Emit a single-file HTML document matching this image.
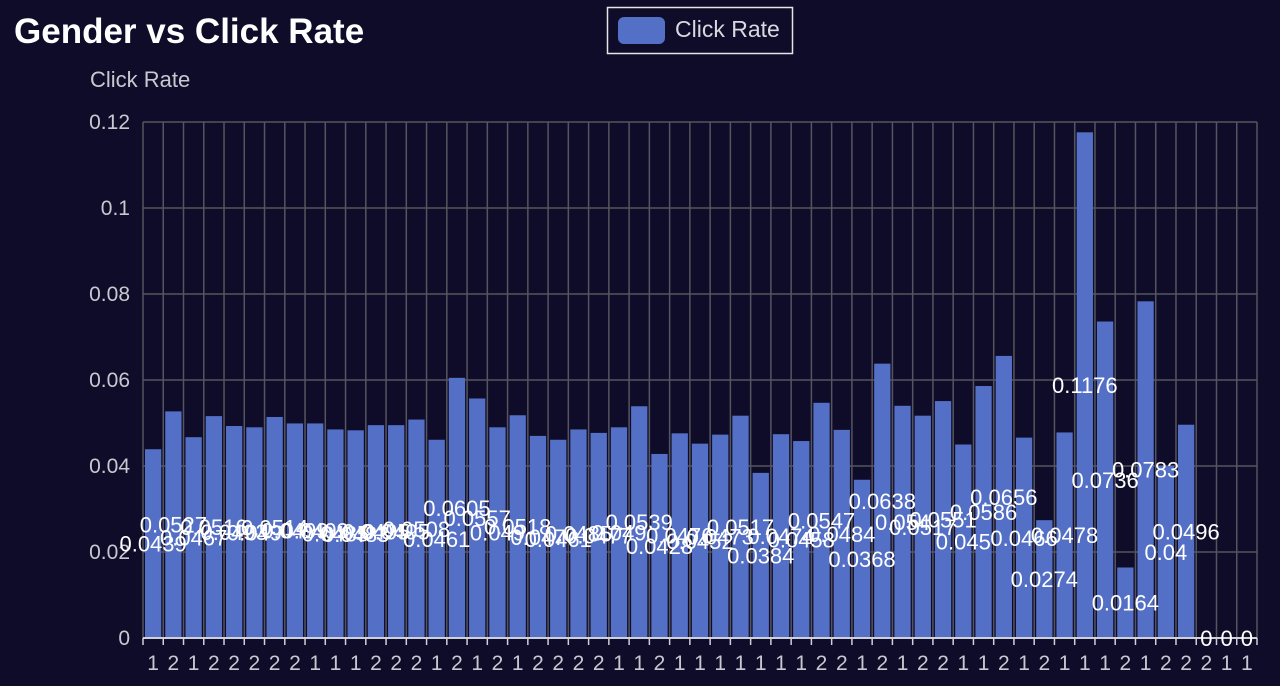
<!DOCTYPE html>
<html><head><meta charset="utf-8"><style>
body{margin:0;background:#0f0c29;width:1280px;height:681px;overflow:hidden;font-family:"Liberation Sans","Noto Sans CJK SC",sans-serif}
</style></head><body>
<svg id="chart" width="1280" height="681" xmlns="http://www.w3.org/2000/svg">
<rect width="1280" height="681" fill="#0f0c29"/>
<text x="14" y="43" fill="#ffffff" font-size="35" font-weight="bold">Gender vs Click Rate</text>
<g>
<rect x="607.5" y="7.5" width="185" height="46" fill="none" stroke="#e6e6e6" stroke-width="1.5"/>
<rect x="618" y="17" width="47" height="27" rx="6" fill="#5470c6"/>
<text x="675" y="37" fill="#d8d8e0" font-size="23">Click Rate</text>
</g>
<text x="90" y="87" fill="#c8c8d0" font-size="22">Click Rate</text>
<g id="grid"></g><g id="bars"></g><g id="axes"></g><g id="labels"></g>
</svg>
<script>
const categories=["1","2","1","2","2","2","2","2","1","1","1","2","2","2","1","2","1","2","1","2","2","2","2","1","1","2","1","1","1","1","1","1","1","2","2","1","2","1","2","2","1","1","2","1","2","1","1","1","2","1","2","2","2","1","1"];
const values=[0.0439,0.0527,0.0467,0.0516,0.0493,0.049,0.0514,0.0499,0.0499,0.0485,0.0483,0.0495,0.0495,0.0508,0.0461,0.0605,0.0557,0.049,0.0518,0.047,0.0461,0.0485,0.0477,0.049,0.0539,0.0428,0.0476,0.0452,0.0473,0.0517,0.0384,0.0474,0.0458,0.0547,0.0484,0.0368,0.0638,0.054,0.0517,0.0551,0.045,0.0586,0.0656,0.0466,0.0274,0.0478,0.1176,0.0736,0.0164,0.0783,0.04,0.0496,0,0,0];
const yTicks=[0,0.02,0.04,0.06,0.08,0.1,0.12];
const yTickLabels=["0","0.02","0.04","0.06","0.08","0.1","0.12"];
const X0=143,X1=1257,Y0=638,Y1=122,YMAX=0.12;
const bw=(X1-X0)/categories.length;
const y=v=>Y0-(v/YMAX)*(Y0-Y1);
const x=i=>X0+i*bw;
const NS="http://www.w3.org/2000/svg";
function mk(tag,attrs,parent){const e=document.createElementNS(NS,tag);for(const k in attrs)e.setAttribute(k,attrs[k]);document.getElementById(parent).appendChild(e);return e;}
yTicks.forEach((t,i)=>{
 if(t>0){const l=mk('line',{x1:X0,x2:X1,y1:y(t),y2:y(t),stroke:'#55555f','stroke-width':1.5},'grid');
 
 }
 const tx=mk('text',{x:130,y:y(t)+7,fill:'#c8c8d0','font-size':21,'text-anchor':'end'},'axes');
 tx.textContent=yTickLabels[i];
 
 
});
for(let i=0;i<=categories.length;i++){
 const l=mk('line',{x1:x(i),x2:x(i),y1:Y1,y2:Y0,stroke:'#55555f','stroke-width':1.5},'grid');
 
 
 const tk=mk('line',{x1:x(i),x2:x(i),y1:Y0,y2:Y0+7,stroke:'#d0d0d8','stroke-width':1.5},'axes');
 
 
}
const ax=mk('line',{x1:X0,x2:X1,y1:Y0,y2:Y0,stroke:'#d0d0d8','stroke-width':2},'axes');


categories.forEach((c,i)=>{
 const cx=x(i)+bw/2;
 const v=values[i];
 const b=mk('rect',{x:x(i)+2,y:y(v),width:bw-4,height:Y0-y(v),fill:'#5470c6'},'bars');
 
 
 const xl=mk('text',{x:cx,y:670,fill:'#c8c8d0','font-size':21,'text-anchor':'middle'},'axes');
 xl.textContent=c;
 
 
 const vl=mk('text',{x:cx,y:(y(v)+Y0)/2+8,fill:'#ffffff','font-size':22,'text-anchor':'middle'},'labels');
 vl.textContent=String(v);
 
 
});
</script>
</body></html>
